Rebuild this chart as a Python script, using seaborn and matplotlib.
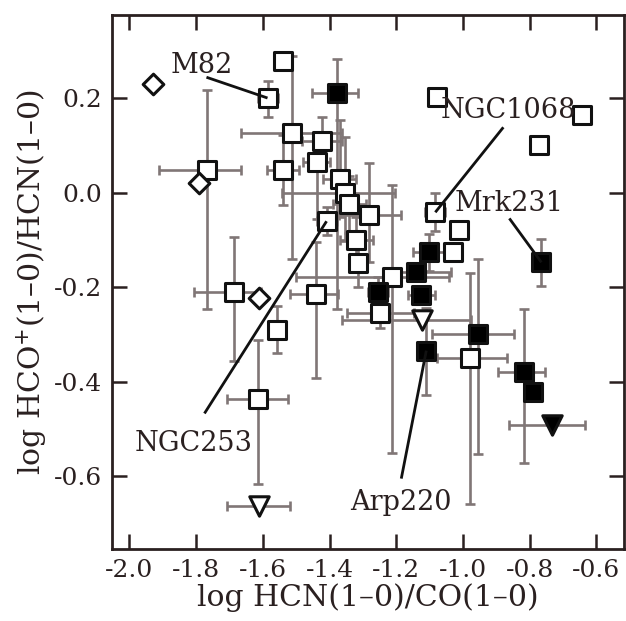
import numpy as np
import pandas as pd
import matplotlib
matplotlib.use("Agg")
import matplotlib.pyplot as plt
import seaborn as sns

# ---------------- data ----------------
# open squares: x, y, xerr(lo, hi), yerr(lo, hi)
sq_open_x = [-1.541, -1.586, -1.514, -1.424, -1.439, -1.541, -1.766, -1.370, -1.353, -1.341,
             -1.281, -1.409, -1.320, -1.314, -1.212, -1.083, -1.011, -1.029, -1.077, -0.642,
             -0.771, -1.685, -1.440, -1.248, -1.559, -1.616, -0.978]
sq_open_y = [0.279, 0.201, 0.126, 0.110, 0.065, 0.048, 0.048, 0.029, -0.001, -0.024,
             -0.047, -0.060, -0.100, -0.149, -0.179, -0.041, -0.079, -0.126, 0.203, 0.165,
             0.101, -0.210, -0.213, -0.255, -0.290, -0.436, -0.349]
sq_open_xlo = [0.0, 0.03, 0.15, 0.06, 0.04, 0.048, 0.144, 0.05, 0.19, 0.05,
               0.09, 0.03, 0.05, 0.0, 0.29, 0.03, 0.0, 0.0, 0.0, 0.0,
               0.0, 0.12, 0.08, 0.10, 0.0, 0.09, 0.10]
sq_open_xhi = [0.0, 0.03, 0.15, 0.06, 0.04, 0.05, 0.10, 0.05, 0.15, 0.05,
               0.096, 0.03, 0.05, 0.0, 0.17, 0.03, 0.0, 0.0, 0.0, 0.0,
               0.0, 0.08, 0.066, 0.10, 0.0, 0.09, 0.11]
sq_open_ylo = [0.0, 0.04, 0.265, 0.05, 0.12, 0.074, 0.293, 0.08, 0.10, 0.06,
               0.10, 0.03, 0.05, 0.05, 0.371, 0.04, 0.0, 0.0, 0.0, 0.0,
               0.0, 0.146, 0.178, 0.03, 0.05, 0.18, 0.31]
sq_open_yhi = [0.0, 0.035, 0.163, 0.05, 0.06, 0.074, 0.17, 0.125, 0.12, 0.06,
               0.11, 0.03, 0.05, 0.05, 0.195, 0.04, 0.0, 0.0, 0.0, 0.0,
               0.0, 0.117, 0.11, 0.03, 0.05, 0.125, 0.18]

# filled squares
sq_fill_x = [-1.379, -1.254, -1.101, -1.140, -1.125, -1.110, -0.954, -0.816, -0.789, -0.765]
sq_fill_y = [0.211, -0.209, -0.126, -0.168, -0.217, -0.334, -0.298, -0.380, -0.421, -0.147]
sq_fill_xlo = [0.075, 0.03, 0.05, 0.05, 0.04, 0.0, 0.138, 0.078, 0.0, 0.0]
sq_fill_xhi = [0.063, 0.03, 0.05, 0.105, 0.04, 0.0, 0.108, 0.063, 0.0, 0.0]
sq_fill_ylo = [0.456, 0.03, 0.04, 0.0, 0.0, 0.093, 0.255, 0.193, 0.0, 0.05]
sq_fill_yhi = [0.072, 0.03, 0.04, 0.0, 0.0, 0.09, 0.159, 0.134, 0.0, 0.05]

# open diamonds
dia_x = [-1.928, -1.790, -1.613]
dia_y = [0.230, 0.021, -0.222]

# open down-triangles (upper limits)
tri_open_x = [-1.613, -1.122]
tri_open_y = [-0.663, -0.270]
tri_open_xlo = [0.095, 0.24]
tri_open_xhi = [0.095, 0.147]

# filled down-triangle
tri_fill_x = [-0.732]
tri_fill_y = [-0.491]
tri_fill_xlo = [0.129]
tri_fill_xhi = [0.099]

# labelled galaxies
lab_names = ["M82", "NGC1068", "Mrk231", "NGC253", "Arp220"]
lab_px = [-1.586, -1.083, -0.765, -1.409, -1.110]
lab_py = [0.201, -0.041, -0.147, -0.060, -0.334]
lab_tx = [-1.784, -0.864, -0.861, -1.808, -1.185]
lab_ty = [0.269, 0.175, -0.022, -0.531, -0.656]
lab_lx = [-1.769, -0.879, -0.861, -1.775, -1.185]
lab_ly = [0.245, 0.139, -0.054, -0.467, -0.605]

xticks = [-2.0, -1.8, -1.6, -1.4, -1.2, -1.0, -0.8, -0.6]
yticks = [0.2, 0.0, -0.2, -0.4, -0.6]

# ---------------- style ----------------
sns.set_style("ticks")
plt.rcParams["font.family"] = ["DejaVu Serif"]
plt.rcParams["mathtext.fontset"] = "dejavuserif"
plt.rcParams["axes.unicode_minus"] = False

INK = "#2a2020"
ERR = "#807676"

fig = plt.figure(figsize=(6.26, 6.21), dpi=100)
ax = fig.add_axes([0.179, 0.116, 0.818, 0.860])

ebkw = dict(fmt="none", ecolor=ERR, elinewidth=1.9, capsize=3.8, capthick=1.9, zorder=2)

ax.errorbar(sq_open_x, sq_open_y, xerr=[sq_open_xlo, sq_open_xhi],
            yerr=[sq_open_ylo, sq_open_yhi], **ebkw)
ax.errorbar(sq_fill_x, sq_fill_y, xerr=[sq_fill_xlo, sq_fill_xhi],
            yerr=[sq_fill_ylo, sq_fill_yhi], **ebkw)
ax.errorbar(tri_open_x, tri_open_y, xerr=[tri_open_xlo, tri_open_xhi], **ebkw)
ax.errorbar(tri_fill_x, tri_fill_y, xerr=[tri_fill_xlo, tri_fill_xhi], **ebkw)

sq_size = 12.5 ** 2
mk_lw = 2.2
sns.scatterplot(x=sq_open_x, y=sq_open_y, marker="s", s=sq_size, color="white",
                edgecolor="#111111", linewidth=mk_lw, zorder=3, ax=ax)
sns.scatterplot(x=sq_fill_x, y=sq_fill_y, marker="s", s=sq_size, color="black",
                edgecolor="#111111", linewidth=mk_lw, zorder=3, ax=ax)
sns.scatterplot(x=dia_x, y=dia_y, marker="D", s=10.5 ** 2, color="white",
                edgecolor="#111111", linewidth=mk_lw, zorder=3, ax=ax)
sns.scatterplot(x=tri_open_x, y=tri_open_y, marker="v", s=14 ** 2, color="white",
                edgecolor="#111111", linewidth=mk_lw, zorder=3, ax=ax)
sns.scatterplot(x=tri_fill_x, y=tri_fill_y, marker="v", s=14 ** 2, color="black",
                edgecolor="#111111", linewidth=mk_lw, zorder=3, ax=ax)

for name, px, py, tx, ty, lx, ly in zip(lab_names, lab_px, lab_py, lab_tx, lab_ty, lab_lx, lab_ly):
    ax.plot([lx, px], [ly, py], color="#111111", lw=2.0, zorder=4, solid_capstyle="butt")
    ax.text(tx, ty, name, ha="center", va="center", fontsize=19.5, color=INK, zorder=5)

ax.set_xlim(-2.052, -0.517)
ax.set_ylim(-0.754, 0.377)
ax.set_xticks(xticks)
ax.set_yticks(yticks)
ax.set_xticklabels([f"{v:.1f}" for v in xticks])
ax.set_yticklabels([f"{v:.1f}" for v in yticks])
ax.tick_params(direction="in", length=11, width=1.8, color=INK, labelcolor=INK,
               labelsize=18, pad=7, top=True, right=True)
for sp in ax.spines.values():
    sp.set_visible(True)
    sp.set_color(INK)
    sp.set_linewidth(2.0)

ax.set_xlabel("log HCN(1\u20130)/CO(1\u20130)", fontsize=21.5, color=INK, labelpad=1)
ax.set_ylabel("log HCO$^{+}$(1\u20130)/HCN(1\u20130)", fontsize=21.5, color=INK, labelpad=4)

fig.savefig("out.png", dpi=100, facecolor="white")
